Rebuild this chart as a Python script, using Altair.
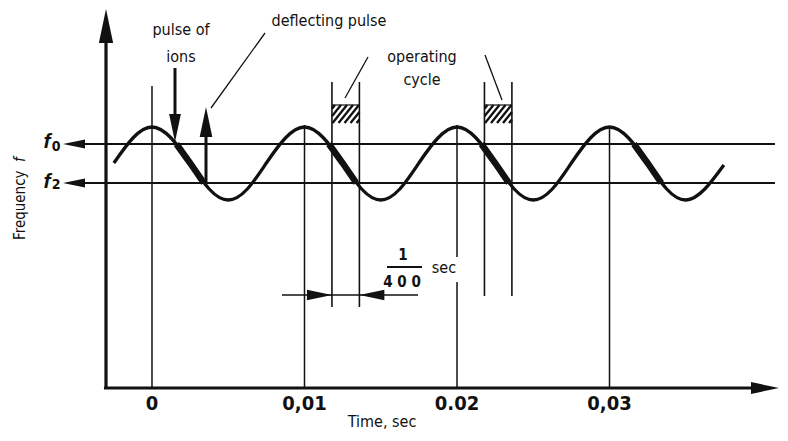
import altair as alt
import pandas as pd

INK = "#111111"
FONT = "Liberation Sans Narrow, DejaVu Sans Condensed, Roboto Condensed, Arial Narrow, Liberation Sans, sans-serif"

# ---------------- data ----------------
# time (s) and frequency (arbitrary units) of the modulated frequency curve
curve_t = [-0.0025, -0.00125, 0.0, 0.00125, 0.0025, 0.00375, 0.005, 0.00625,
           0.0075, 0.00875, 0.01, 0.01125, 0.0125, 0.01375, 0.015, 0.01625,
           0.0175, 0.01875, 0.02, 0.02125, 0.0225, 0.02375, 0.025, 0.02625,
           0.0275, 0.02875, 0.03, 0.03125, 0.0325, 0.03375, 0.035, 0.03625,
           0.0375]
curve_v = [270, 295, 306, 295, 270, 244, 233, 244,
           270, 295, 306, 295, 270, 244, 233, 244,
           270, 295, 306, 295, 270, 244, 233, 244,
           270, 295, 306, 295, 270, 244, 233, 244,
           268]

# thick (working) part of each cycle, between f0 and f2
thick_t = [0.0016, 0.0025, 0.0034, 0.0116, 0.0125, 0.0134,
           0.0216, 0.0225, 0.0234, 0.0316, 0.0325, 0.0334]
thick_v = [289, 270, 250, 289, 270, 250, 289, 270, 250, 289, 270, 250]
thick_cycle = [1, 1, 1, 2, 2, 2, 3, 3, 3, 4, 4, 4]

f_levels = [289, 250]          # f0, f2
f_subs = ["0", "2"]

tick_times = [0.0, 0.01, 0.02, 0.03]
tick_labels = ["0", "0,01", "0.02", "0,03"]

grid_t = [0.0, 0.01, 0.02, 0.02, 0.03]
grid_top = [347, 308, 308, 151, 306]
grid_bot = [45, 45, 176, 45, 45]

cycle_left = [0.0118, 0.0218]
cycle_right = [0.0136, 0.0236]
cycle_bot = [126, 137]
cycle_top = 351
hatch_bot, hatch_top = 310, 328

# ---------------- scales ----------------
XDOM = [-0.0094426, 0.0411803]
YDOM = [0, 425]
PX = 772 / (XDOM[1] - XDOM[0])   # pixels per second in this layout


def X(f):
    return alt.X(f, type="quantitative", scale=alt.Scale(domain=XDOM, nice=False, zero=False), axis=None)


def Y(f):
    return alt.Y(f, type="quantitative", scale=alt.Scale(domain=YDOM, nice=False, zero=False), axis=None)


# ---------------- straight lines ----------------
rules = []


def rule(t, t2, v, v2, w):
    rules.append({"t": t, "t2": t2, "v": v, "v2": v2, "w": w})


# axes
rule(-0.00315, 0.0402, 45, 45, 3.2)
rule(-0.003016, -0.003016, 45, 407, 3.2)
# f0 / f2 levels
for lv in f_levels:
    rule(-0.0051, 0.04085, lv, lv, 1.8)
# time grid
for t, a, b in zip(grid_t, grid_top, grid_bot):
    rule(t, t, b, a, 1.5)
# operating-cycle lines + hatched boxes
for l, r, b in zip(cycle_left, cycle_right, cycle_bot):
    rule(l, l, b, cycle_top, 1.6)
    rule(r, r, b, cycle_top, 1.6)
    rule(l, r, hatch_top, hatch_top, 1.2)
    xl, xr = l * PX, r * PX
    h = hatch_top - hatch_bot
    slope = 0.8
    c = xl - slope * h + 3.0
    while c < xr:
        x0, y0 = c, hatch_bot
        x1, y1 = c + slope * h, hatch_top
        if x0 < xl:
            y0 = hatch_bot + (xl - c) / slope
            x0 = xl
        if x1 > xr:
            y1 = hatch_bot + (xr - c) / slope
            x1 = xr
        if x1 > x0 + 0.5:
            rule(x0 / PX, x1 / PX, y0, y1, 2.3)
        c += 6.0
# pulse arrows shafts
rule(0.001508, 0.001508, 305, 365, 3.0)
rule(0.003541, 0.003541, 250, 311, 3.0)
# leader lines
rule(0.00741, 0.003869, 400, 325, 1.3)
rule(0.014164, 0.012656, 376, 335, 1.3)
rule(0.021836, 0.022951, 378, 333, 1.3)
# 1/400 s dimension line and fraction bar
rule(0.008525, 0.017443, 138, 138, 1.5)
rule(0.01541, 0.017705, 166, 166, 1.8)

rules_df = pd.DataFrame(rules)

# ---------------- arrow heads ----------------
heads_df = pd.DataFrame({
    "t": [-0.003016, 0.040197, -0.005115, -0.005115, 0.001508, 0.003541,
          cycle_left[0] - 12.5 / PX, cycle_right[0] + 12.5 / PX],
    "v": [407, 45, f_levels[0], f_levels[1], 305, 311, 138, 138],
    "a": [0, 90, 270, 270, 180, 0, 90, 270],
    "s": [1156, 784, 484, 484, 784, 900, 625, 625],
})
ARROW = "M0,-1L0.42,1L-0.42,1Z"

curve_df = pd.DataFrame({"t": curve_t, "v": curve_v})
thick_df = pd.DataFrame({"t": thick_t, "v": thick_v, "cycle": thick_cycle})

curve = alt.Chart(curve_df).mark_line(interpolate="natural", color=INK, strokeWidth=3.3).encode(
    x=X("t"), y=Y("v"))
thick = alt.Chart(thick_df).mark_line(color=INK, strokeWidth=6.5, strokeCap="butt").encode(
    x=X("t"), y=Y("v"), detail="cycle:N")
lines = alt.Chart(rules_df).mark_rule(color=INK, strokeCap="butt").encode(
    x=X("t"), x2="t2:Q", y=Y("v"), y2="v2:Q",
    strokeWidth=alt.StrokeWidth("w:Q", scale=None))
heads = alt.Chart(heads_df).mark_point(shape=ARROW, filled=True, color=INK, opacity=1, strokeWidth=0).encode(
    x=X("t"), y=Y("v"), angle=alt.Angle("a:Q", scale=None), size=alt.Size("s:Q", scale=None))


def texts(df, size, weight="normal", style="normal", font=FONT, angle=0, align="center"):
    return alt.Chart(df).mark_text(fontSize=size, fontWeight=weight, fontStyle=style, font=font,
                                   angle=angle, align=align, baseline="middle", color=INK).encode(
        x=X("t"), y=Y("v"), text="txt:N")


notes_df = pd.DataFrame({
    "t": [0.0019, 0.0019, 0.011607, 0.017705, 0.017705, 0.019148, 0.015082],
    "v": [403, 376, 412, 376, 353, 165, 11],
    "txt": ["pulse of", "ions", "deflecting pulse", "operating", "cycle", "sec", "Time, sec"],
})
frac_df = pd.DataFrame({"t": [0.016459, 0.016393], "v": [178, 151], "txt": ["1", "4 0 0"]})
ticks_df = pd.DataFrame({"t": tick_times, "v": [29] * 4, "txt": tick_labels})
fsym_df = pd.DataFrame({"t": [-0.006885, -0.006885], "v": [291, 251], "txt": ["f", "f"]})
fsub_df = pd.DataFrame({"t": [-0.006295, -0.006295], "v": [286, 248], "txt": f_subs})
ytitle_df = pd.DataFrame({"t": [-0.008656], "v": [193], "txt": ["Frequency"]})
yf_df = pd.DataFrame({"t": [-0.008656], "v": [271], "txt": ["f"]})

chart = alt.layer(
    lines,
    curve,
    thick,
    heads,
    texts(notes_df, 16),
    texts(frac_df, 15, weight="bold"),
    texts(ticks_df, 20, weight="bold"),
    texts(fsym_df, 21, weight="bold", style="italic", font="Liberation Sans, sans-serif"),
    texts(fsub_df, 14, weight="bold"),
    texts(ytitle_df, 15, angle=270, align="left"),
    texts(yf_df, 15, style="italic", angle=270, align="left"),
).properties(
    width=772, height=425,
    autosize=alt.AutoSizeParams(type="none"),
    padding=0,
    background="white",
).configure_view(stroke=None)

chart.save("out.html", embed_options={"renderer": "svg", "actions": False})
